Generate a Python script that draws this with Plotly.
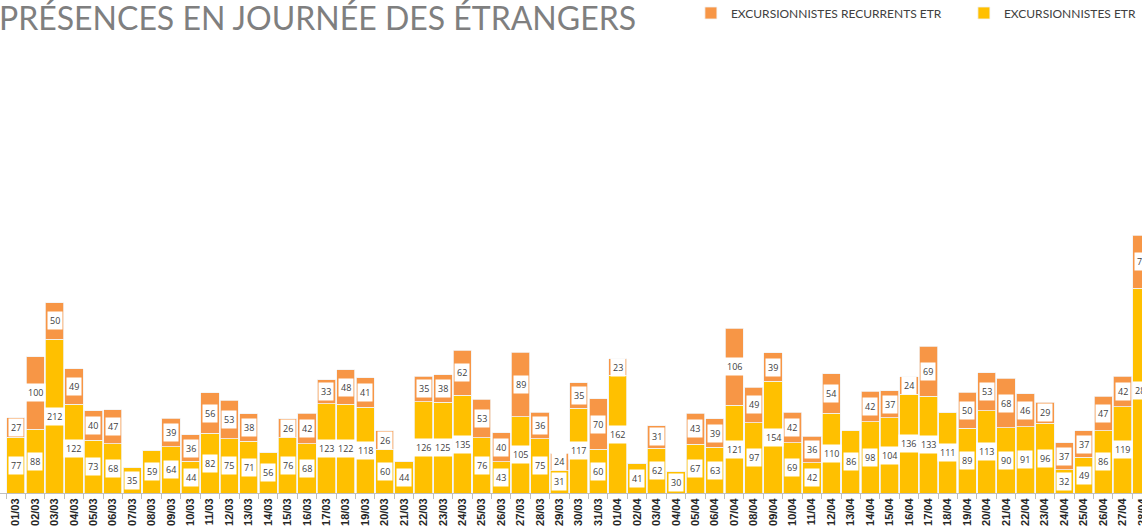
import plotly.graph_objects as go

# Dates 01/03 -> 28/04
dates = [f"{d:02d}/03" for d in range(1, 32)] + [f"{d:02d}/04" for d in range(1, 29)]

# Excursionnistes étrangers (yellow, bottom)
excursionnistes = [77, 88, 212, 122, 73, 68, 35, 59, 64, 44, 82, 75, 71, 56, 76, 68,
                   123, 122, 118, 60, 44, 126, 125, 135, 76, 43, 105, 75, 31, 117, 60,
                   162, 41, 62, 30, 67, 63, 121, 97, 154, 69, 42, 110, 86, 98, 104,
                   136, 133, 111, 89, 113, 90, 91, 96, 32, 49, 86, 119, 282]

# Excursionnistes récurrents étrangers (orange, top) - None where no value
recurrents = [27, 100, 50, 49, 40, 47, None, None, 39, 36, 56, 53, 38, None, 26, 42,
              33, 48, 41, 26, None, 35, 38, 62, 53, 40, 89, 36, 24, 35, 70,
              23, None, 31, None, 43, 39, 106, 49, 39, 42, 36, 54, None, 42, 37,
              24, 69, None, 50, 53, 68, 46, 29, 37, 37, 47, 42, 73]

YELLOW = "#FFC000"
ORANGE = "#F79646"

fig = go.Figure()
fig.add_trace(go.Bar(x=dates, y=excursionnistes, name="EXCURSIONNISTES ETR",
                     marker=dict(color=YELLOW, line=dict(color="#f2f2f2", width=0.8))))
fig.add_trace(go.Bar(x=dates, y=[r or 0 for r in recurrents], name="EXCURSIONNISTES RECURRENTS ETR",
                     marker=dict(color=ORANGE, line=dict(color="#f2f2f2", width=0.8))))

# value labels in white boxes
label_font = dict(size=9, color="#404040", family="Open Sans")
annotations = []
for d, e, r in zip(dates, excursionnistes, recurrents):
    annotations.append(dict(x=d, y=e / 2, text=str(e), showarrow=False,
                            bgcolor="white", borderpad=2, font=label_font))
    if r:
        annotations.append(dict(x=d, y=e + r / 2, text=str(r), showarrow=False,
                                bgcolor="white", borderpad=2, font=label_font))

# title (cut at the left edge like the original)
annotations.append(dict(x=-0.0026, xref="paper", xanchor="left", y=1.056, yref="paper",
                        yanchor="middle", text="PRÉSENCES EN JOURNÉE DES ÉTRANGERS",
                        showarrow=False, font=dict(size=32, color="#7f7f7f", family="Lato")))

fig.update_layout(
    width=1142, height=531,
    barmode="stack", bargap=0.06,
    plot_bgcolor="white", paper_bgcolor="white",
    margin=dict(l=0, r=0, t=43, b=38, autoexpand=False),
    showlegend=True,
    legend=dict(orientation="h", traceorder="reversed", x=0.605, xanchor="left",
                y=1.0667, yanchor="middle", entrywidth=228, entrywidthmode="pixels",
                font=dict(size=12, color="#404040", family="Lato")),
    xaxis=dict(range=[-0.81, 58.0], tickangle=-90, showline=True, linecolor="#bfbfbf",
               ticks="outside", ticklen=5, tickcolor="#bfbfbf", tickson="boundaries",
               tickfont=dict(size=11, color="#262626", family="Liberation Sans"),
               automargin=False),
    yaxis=dict(range=[0, 620], visible=False),
    annotations=annotations,
)

# bold tick labels
fig.update_xaxes(tickvals=dates, ticktext=[f"<b>{d}</b>" for d in dates])

# no page margin around the figure
fig.write_html("out.html", config={"displayModeBar": False},
               post_script="document.body.style.margin='0';")
